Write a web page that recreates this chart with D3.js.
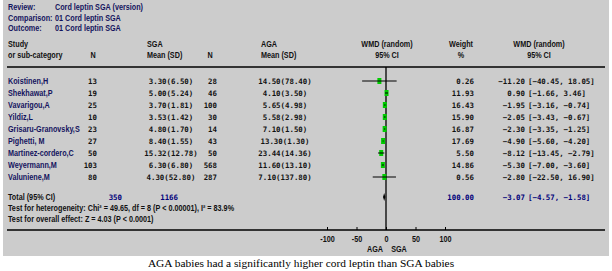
<!DOCTYPE html>
<html lang="en">
<head>
<meta charset="UTF-8">
<title>Cord leptin SGA forest plot</title>
<script src="https://d3js.org/d3.v7.min.js"></script>
<style>
  body { margin: 0; background: #fff; }
  .lab { font-family: "Liberation Sans", Arial, sans-serif; font-weight: bold; font-size: 8.6px; }
  .num { font-family: "DejaVu Sans Mono", "Liberation Mono", monospace; font-weight: bold; font-size: 7.4px; }
</style>
</head>
<body>
<svg id="chart"></svg>
<script>
    // study rows
    studies = ["Koistinen,H", "Shekhawat,P", "Vavarigou,A", "Yildiz,L", "Grisaru-Granovsky,S",
               "Pighetti, M", "Martinez-cordero,C", "Weyermann,M", "Valuniene,M"];
    nSGA = [13, 19, 25, 10, 23, 27, 50, 103, 80];
    meanSGA = ["3.30", "5.00", "3.70", "3.53", "4.80", "8.40", "15.32", "6.30", "4.30"];
    sdSGA = ["6.50", "5.24", "1.81", "1.42", "1.70", "1.55", "12.78", "6.80", "52.80"];
    nAGA = [28, 46, 100, 30, 14, 43, 50, 568, 287];
    meanAGA = ["14.50", "4.10", "5.65", "5.58", "7.10", "13.30", "23.44", "11.60", "7.10"];
    sdAGA = ["78.40", "3.50", "4.98", "2.98", "1.50", "1.30", "14.36", "13.10", "137.80"];
    weight = ["0.26", "11.93", "16.43", "15.90", "16.87", "17.69", "5.50", "14.86", "0.56"];
    wmd = [-11.20, 0.90, -1.95, -2.05, -2.30, -4.90, -8.12, -5.30, -2.80];
    ciLow = [-40.45, -1.66, -3.16, -3.43, -3.35, -5.60, -13.45, -7.00, -22.50];
    ciHigh = [18.05, 3.46, -0.74, -0.67, -1.25, -4.20, -2.79, -3.60, 16.90];

    // pooled result
    totalN = [350, 1166];
    totalWmd = -3.07, totalLow = -4.57, totalHigh = -1.58;
    axisTicks = [-100, -50, 0, 50, 100];

    W = 612; H = 271;
    navy = "#14145e";
    blue = "#00007a";
    squeeze = 0.84;   // fake a narrow face

    svg = d3.select("#chart").attr("width", W).attr("height", H);

    svg.append("rect").attr("x", 3).attr("y", 0).attr("width", 606).attr("height", 256)
        .attr("fill", "#cccccc");

    function txt(x, y, s, cls, anchor, color) {
        let t = svg.append("text").attr("class", cls)
            .attr("text-anchor", anchor || "start").attr("fill", color || "#111")
            .text(s);
        if (cls == "lab") t.attr("transform", `translate(${x},${y}) scale(${squeeze},1)`);
        else t.attr("x", x).attr("y", y);
        return t;
    }

    // review info
    [["Review:", "Cord leptin SGA (version)"], ["Comparison:", "01 Cord leptin SGA"],
     ["Outcome:", "01 Cord leptin SGA"]].forEach(function (p, i) {
        txt(8, 10 + i * 10.5, p[0], "lab", "start", navy);
        txt(55, 10 + i * 10.5, p[1], "lab", "start", navy);
    });

    // column headers
    txt(8, 47, "Study", "lab");
    txt(8, 58, "or sub-category", "lab");
    txt(93, 58, "N", "lab", "middle");
    txt(147, 47, "SGA", "lab");
    txt(147, 58, "Mean (SD)", "lab");
    txt(210, 58, "N", "lab", "middle");
    txt(261, 47, "AGA", "lab");
    txt(261, 58, "Mean (SD)", "lab");
    txt(387, 47, "WMD (random)", "lab", "middle");
    txt(387, 58, "95% CI", "lab", "middle");
    txt(461, 47, "Weight", "lab", "middle");
    txt(461, 58, "%", "lab", "middle");
    txt(539, 47, "WMD (random)", "lab", "middle");
    txt(539, 58, "95% CI", "lab", "middle");

    svg.append("line").attr("x1", 7).attr("x2", 605).attr("y1", 67).attr("y2", 67)
        .attr("stroke", "#000").attr("stroke-width", 1.5);

    yRow = d3.scaleLinear().domain([0, studies.length - 1]).range([81, 177]);
    x = d3.scaleLinear().domain([-100, 100]).range([327, 445]);
    fmt = d3.format(".2f");

    studies.forEach(function (s, i) {
        let y = yRow(i) + 2.8;
        txt(8, y, s, "lab", "start", navy);
        txt(97, y, nSGA[i], "num", "end");
        txt(171, y, meanSGA[i] + "(" + sdSGA[i] + ")", "num", "middle");
        txt(217, y, nAGA[i], "num", "end");
        txt(285, y, meanAGA[i] + "(" + sdAGA[i] + ")", "num", "middle");
        txt(474, y, weight[i], "num", "end");
        txt(525, y, fmt(wmd[i]), "num", "end");
        txt(528, y, "[" + fmt(ciLow[i]) + ", " + fmt(ciHigh[i]) + "]", "num", "start");
    });

    // zero line
    svg.append("line").attr("x1", x(0)).attr("x2", x(0)).attr("y1", 67).attr("y2", 230)
        .attr("stroke", "#000").attr("stroke-width", 1.3);

    // study markers
    let marks = svg.append("g").selectAll("g").data(studies).join("g");
    marks.append("rect")
        .attr("x", (d, i) => x(wmd[i]) - 2).attr("y", (d, i) => yRow(i) - 3)
        .attr("width", 4).attr("height", 6).attr("fill", "#00cc00");
    marks.append("line")
        .attr("x1", (d, i) => x(ciLow[i])).attr("x2", (d, i) => x(ciHigh[i]))
        .attr("y1", (d, i) => yRow(i)).attr("y2", (d, i) => yRow(i))
        .attr("stroke", "#000").attr("stroke-width", 1);

    // total row
    let yT = 197;
    txt(8, yT + 2.8, "Total (95% CI)", "lab");
    txt(122, yT + 2.8, totalN[0], "num", "end", blue);
    txt(178, yT + 2.8, totalN[1], "num", "end", blue);
    txt(474, yT + 2.8, "100.00", "num", "end", blue);
    txt(525, yT + 2.8, fmt(totalWmd), "num", "end", blue);
    txt(528, yT + 2.8, "[" + fmt(totalLow) + ", " + fmt(totalHigh) + "]", "num", "start", blue);
    svg.append("path")
        .attr("d", `M${x(totalLow) - 0.3},${yT} L${x(totalWmd)},${yT - 4} L${x(totalHigh) + 0.3},${yT} L${x(totalWmd)},${yT + 4} Z`)
        .attr("fill", "#000");

    txt(8, 211, "Test for heterogeneity: Chi\u00b2 = 49.65, df = 8 (P < 0.00001), I\u00b2 = 83.9%", "lab");
    txt(8, 222, "Test for overall effect: Z = 4.03 (P < 0.0001)", "lab");

    // bottom line doubles as axis
    svg.append("line").attr("x1", 7).attr("x2", 605).attr("y1", 230).attr("y2", 230)
        .attr("stroke", "#000").attr("stroke-width", 1.5);

    let axis = svg.append("g").attr("transform", "translate(0,230)")
        .call(d3.axisBottom(x).tickValues(axisTicks).tickSize(-3).tickPadding(6)
            .tickFormat(d => String(d)));
    axis.select(".domain").remove();
    axis.selectAll("text").attr("class", "lab").attr("fill", "#111")
        .attr("transform", `scale(${squeeze},1)`);
    axis.selectAll("line").attr("stroke", "#000");

    txt(375, 252, "AGA", "lab", "middle");
    txt(399, 252, "SGA", "lab", "middle");

    svg.append("text").attr("x", 301).attr("y", 267).attr("text-anchor", "middle")
        .attr("font-family", "Liberation Serif, serif").attr("font-size", 11.4).attr("fill", "#000")
        .text("AGA babies had a significantly higher cord leptin than SGA babies");
</script>
</body>
</html>
